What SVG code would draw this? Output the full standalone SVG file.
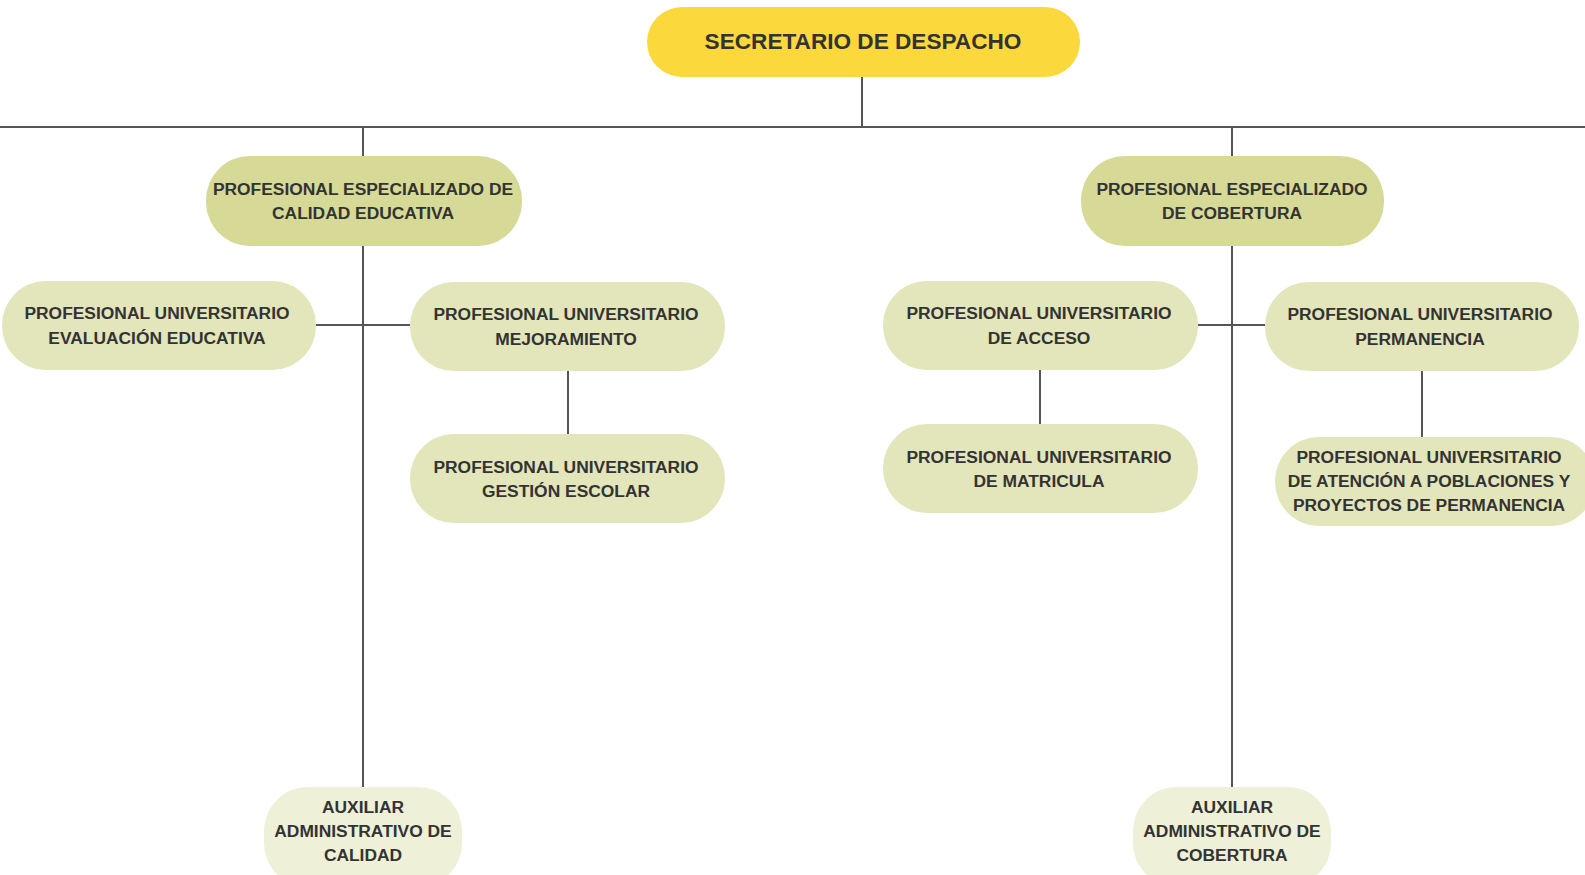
<svg xmlns="http://www.w3.org/2000/svg" width="1585" height="875" viewBox="0 0 1585 875">
<style>
.t{font-family:"Liberation Sans",Arial,sans-serif;font-weight:bold;font-size:17.4px;fill:#333333;text-anchor:middle}
.top{font-size:22.6px}
.ln{stroke:#555555;stroke-width:2;fill:none}
.y{fill:#FBD83B}
.pe{fill:#D6DA96}
.pu{fill:#E3E5BB}
.ax{fill:#EEF0D8}
</style>
<rect width="1585" height="875" fill="#ffffff"/>
<g id="connectors">
<path class="ln" d="M862,77V127M0,127H1585M363,127V156M1232,127V156M363,246V787M1232,246V787M316,325H410M1198,325H1265M568,371V434M1040,370V424M1422,371V437"/>
</g>
<g id="n-secretario"><rect class="y" x="647" y="7" width="433" height="70" rx="35"/><text class="t top" x="863" y="48.5">SECRETARIO DE DESPACHO</text></g>
<g id="n-pe-calidad"><rect class="pe" x="206" y="156" width="316" height="90" rx="44"/><text class="t" x="363" y="195">PROFESIONAL ESPECIALIZADO DE</text><text class="t" x="363" y="219">CALIDAD EDUCATIVA</text></g>
<g id="n-pe-cobertura"><rect class="pe" x="1081" y="156" width="303" height="90" rx="44"/><text class="t" x="1232" y="195">PROFESIONAL ESPECIALIZADO</text><text class="t" x="1232" y="219">DE COBERTURA</text></g>
<g id="n-pu-evaluacion"><rect class="pu" x="2" y="281" width="314" height="89" rx="44"/><text class="t" x="157" y="319">PROFESIONAL UNIVERSITARIO</text><text class="t" x="157" y="344">EVALUACIÓN EDUCATIVA</text></g>
<g id="n-pu-mejoramiento"><rect class="pu" x="410" y="282" width="315" height="89" rx="44"/><text class="t" x="566" y="320">PROFESIONAL UNIVERSITARIO</text><text class="t" x="566" y="345">MEJORAMIENTO</text></g>
<g id="n-pu-gestion"><rect class="pu" x="410" y="434" width="315" height="89" rx="44"/><text class="t" x="566" y="473">PROFESIONAL UNIVERSITARIO</text><text class="t" x="566" y="497">GESTIÓN ESCOLAR</text></g>
<g id="n-pu-acceso"><rect class="pu" x="883" y="281" width="315" height="89" rx="44"/><text class="t" x="1039" y="319">PROFESIONAL UNIVERSITARIO</text><text class="t" x="1039" y="344">DE ACCESO</text></g>
<g id="n-pu-matricula"><rect class="pu" x="883" y="424" width="315" height="89" rx="44"/><text class="t" x="1039" y="463">PROFESIONAL UNIVERSITARIO</text><text class="t" x="1039" y="487">DE MATRICULA</text></g>
<g id="n-pu-permanencia"><rect class="pu" x="1265" y="282" width="314" height="89" rx="44"/><text class="t" x="1420" y="320">PROFESIONAL UNIVERSITARIO</text><text class="t" x="1420" y="345">PERMANENCIA</text></g>
<g id="n-pu-atencion"><rect class="pu" x="1275" y="437" width="320" height="89" rx="44"/><text class="t" x="1429" y="463">PROFESIONAL UNIVERSITARIO</text><text class="t" x="1429" y="487">DE ATENCIÓN A POBLACIONES Y</text><text class="t" x="1429" y="511">PROYECTOS DE PERMANENCIA</text></g>
<g id="n-aux-calidad"><rect class="ax" x="264" y="787" width="198" height="100" rx="44"/><text class="t" x="363" y="813">AUXILIAR</text><text class="t" x="363" y="837">ADMINISTRATIVO DE</text><text class="t" x="363" y="861">CALIDAD</text></g>
<g id="n-aux-cobertura"><rect class="ax" x="1133" y="787" width="198" height="100" rx="44"/><text class="t" x="1232" y="813">AUXILIAR</text><text class="t" x="1232" y="837">ADMINISTRATIVO DE</text><text class="t" x="1232" y="861">COBERTURA</text></g>
</svg>
